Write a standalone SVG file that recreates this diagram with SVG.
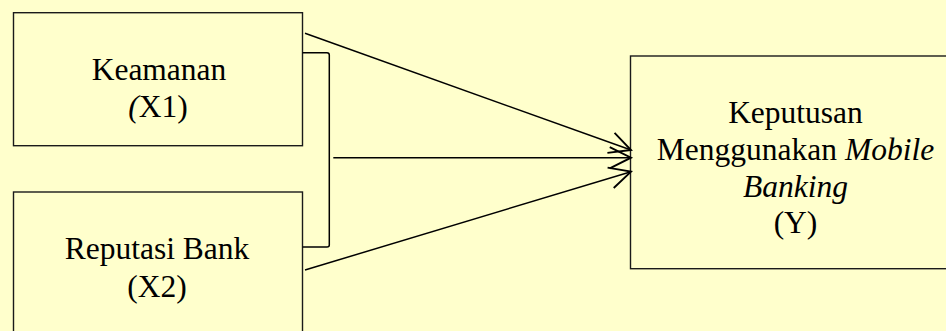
<svg xmlns="http://www.w3.org/2000/svg" width="946" height="331" viewBox="0 0 946 331">
<defs>
<style>
.box{fill:none;stroke:#1a1a1a;stroke-width:1.4}
.t{font-family:'Liberation Serif','DejaVu Serif',serif;font-size:31.5px;fill:#000;text-anchor:middle}
.i{font-style:italic}
.c{fill:none;stroke:#000;stroke-width:1.5}
</style>
<marker id="ah" markerUnits="userSpaceOnUse" markerWidth="30" markerHeight="30" refX="0" refY="0" viewBox="-20 -12 24 24" orient="auto" overflow="visible">
<path d="M -17 -8.5 L 0 0 L -17 8.5" fill="none" stroke="#000" stroke-width="1.5"/>
</marker>
</defs>
<rect x="0" y="0" width="946" height="331" fill="#FFFFCC"/>
<g id="node-x1">
<rect class="box" x="13.5" y="12.7" width="289" height="133"/>
<text class="t" font-family="Liberation Serif, serif" x="159" y="80">Keamanan</text>
<text class="t" font-family="Liberation Serif, serif" x="158" y="117.3"><tspan class="i">(</tspan>X1)</text>
</g>
<g id="node-x2">
<rect class="box" x="13.5" y="192" width="289" height="150"/>
<text class="t" font-family="Liberation Serif, serif" x="157" y="259.3">Reputasi Bank</text>
<text class="t" font-family="Liberation Serif, serif" x="157" y="296.7">(X2)</text>
</g>
<g id="node-y">
<rect class="box" x="630.5" y="56" width="340" height="212.7"/>
<text class="t" font-family="Liberation Serif, serif" x="795.5" y="122.7">Keputusan</text>
<text class="t" font-family="Liberation Serif, serif" x="795.5" y="160">Menggunakan <tspan class="i">Mobile</tspan></text>
<text class="t i" font-family="Liberation Serif, serif" x="795.5" y="196.7">Banking</text>
<text class="t" font-family="Liberation Serif, serif" x="795.5" y="233.3">(Y)</text>
</g>
<g id="connectors">
<path class="c" d="M 302.5 52.7 L 327 52.7 Q 329.3 52.7 329.3 55 L 329.3 245 Q 329.3 247 327 247 L 302.5 247"/>
<line class="c" x1="305" y1="33.3" x2="631" y2="150" marker-end="url(#ah)"/>
<line class="c" x1="333.3" y1="157.7" x2="631" y2="157.7" marker-end="url(#ah)"/>
<line class="c" x1="305" y1="270" x2="631" y2="171.7" marker-end="url(#ah)"/>
</g>
</svg>
